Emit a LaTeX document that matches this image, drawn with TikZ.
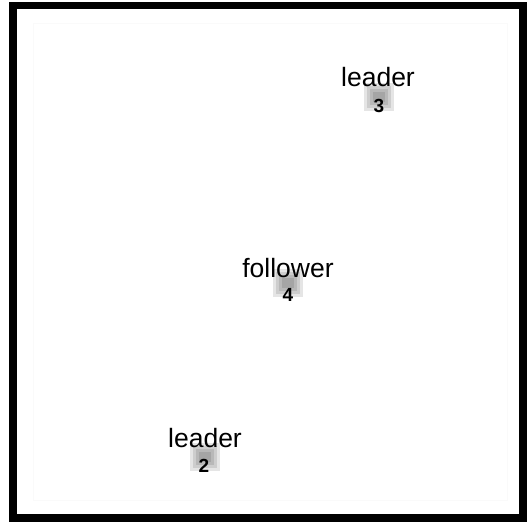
\documentclass[tikz,border=0pt]{standalone}
\usepackage{fontspec}
\setmainfont{Liberation Sans}
\begin{document}
\begin{tikzpicture}[x=1pt,y=-1pt,
  lbl/.style={inner sep=0pt,anchor=base,font=\fontsize{26.5}{30}\selectfont},
  num/.style={inner sep=0pt,anchor=base,font=\fontsize{19}{22}\selectfont\bfseries},
  blurbox/.style={fill=black,opacity=0.1,draw=none}]
\useasboundingbox (0,0) rectangle (527,523);
\fill[white] (0,0) rectangle (527,523);
% faint inner traces
\draw[gray!4,line width=1pt] (33,23) rectangle (507,500);
\draw[black,line width=7.5pt] (13,5.5) rectangle (523,518);
% gray blurred markers
\newcommand{\blurmark}[2]{%
  \fill[blurbox] (#1-15,#2-14) rectangle (#1+15,#2+14);
  \fill[blurbox] (#1-12,#2-11) rectangle (#1+12,#2+11);
  \fill[blurbox] (#1-9,#2-8) rectangle (#1+9,#2+8);
  \fill[blurbox] (#1-6,#2-5) rectangle (#1+6,#2+5);}
\blurmark{379}{97}
\blurmark{288}{283}
\blurmark{205}{457}
% labels
\node[lbl] (l3) at (378,86) {leader};
\node[num] (n3) at (379,112) {3};
\node[lbl] (f4) at (288,277) {follower};
\node[num] (n4) at (288,301) {4};
\node[lbl] (l2) at (205,447) {leader};
\node[num] (n2) at (204,472) {2};
\end{tikzpicture}
\end{document}
